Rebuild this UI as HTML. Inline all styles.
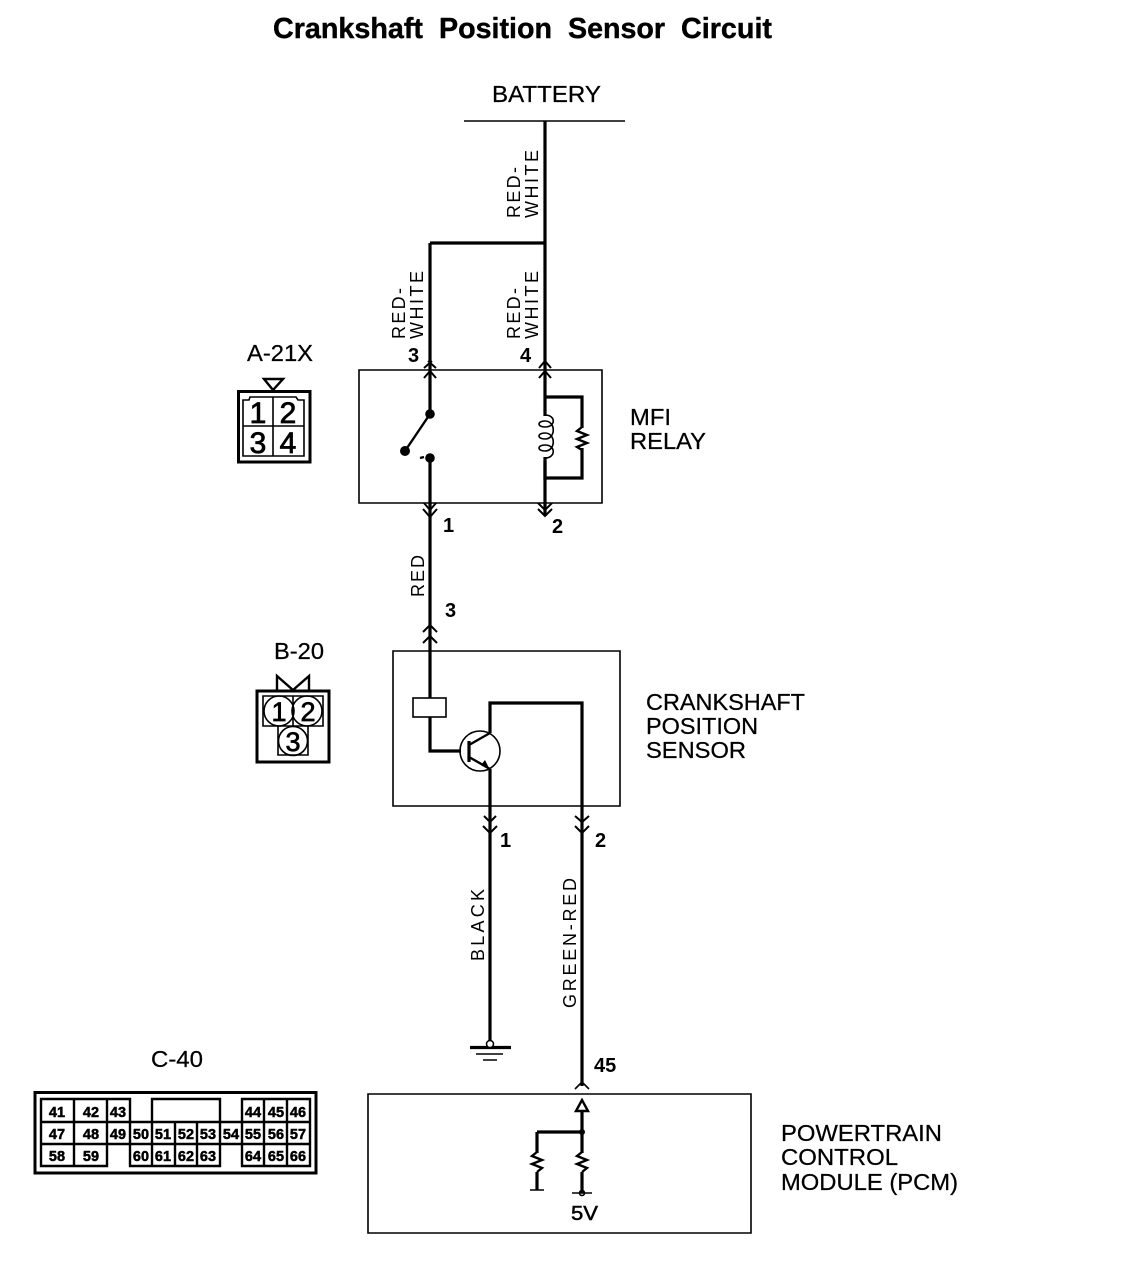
<!DOCTYPE html>
<html><head><meta charset="utf-8"><style>
html,body{margin:0;padding:0;background:#fff;width:1136px;height:1262px;overflow:hidden}
svg{display:block}
text{font-family:"Liberation Sans",Arial,sans-serif;fill:#000}
.w{stroke:#000;stroke-width:3.2;fill:none}
.t{stroke:#000;stroke-width:1.6;fill:none}
.a{stroke:#000;stroke-width:2;fill:none}
.m{stroke:#000;stroke-width:2.4;fill:none}
.l{font-size:23px;stroke:#000;stroke-width:.25}
.n{font-size:20px;font-weight:bold}
.v{font-size:18px}
.d{font-size:30px;text-anchor:middle;stroke:#000;stroke-width:.8}
.e{font-size:27px;text-anchor:middle;stroke:#000;stroke-width:.7}
.c{font-size:14.500px;font-weight:bold;text-anchor:middle;stroke:#000;stroke-width:.5}
.h{font-size:28.500px;font-weight:bold;stroke:#000;stroke-width:.4}
</style></head><body>
<svg width="1136" height="1262" viewBox="0 0 1136 1262" xmlns="http://www.w3.org/2000/svg">
<text x="273" y="38" class="h" textLength="150" lengthAdjust="spacingAndGlyphs">Crankshaft</text>
<text x="439" y="38" class="h" textLength="113" lengthAdjust="spacingAndGlyphs">Position</text>
<text x="568" y="38" class="h" textLength="97" lengthAdjust="spacingAndGlyphs">Sensor</text>
<text x="681" y="38" class="h" textLength="91" lengthAdjust="spacingAndGlyphs">Circuit</text>
<text x="492" y="102" class="l" textLength="109" lengthAdjust="spacingAndGlyphs">BATTERY</text>
<path class="t" d="M464 121H625"/>
<path class="w" d="M545 121V516M430 243H545M430 243V414M430 458V625"/>
<text class="v" transform="translate(520,218) rotate(-90)" textLength="51">RED-</text>
<text class="v" transform="translate(538,218) rotate(-90)" textLength="68">WHITE</text>
<text class="v" transform="translate(405,339) rotate(-90)" textLength="51">RED-</text>
<text class="v" transform="translate(423,339) rotate(-90)" textLength="68">WHITE</text>
<text class="v" transform="translate(520,339) rotate(-90)" textLength="51">RED-</text>
<text class="v" transform="translate(538,339) rotate(-90)" textLength="68">WHITE</text>
<text x="408" y="362" class="n">3</text>
<text x="520" y="362" class="n">4</text>
<path class="t" d="M359 370H602V503H359Z"/>
<path class="a" d="M424 368L432 361M436 368L428 361M424 378L430 371L436 378M539 368L545 361L551 368M539 378L545 371L551 378"/>
<circle cx="430" cy="414" r="4.800"/><circle cx="430" cy="458" r="4.800"/><circle cx="405" cy="451" r="5"/>
<path class="m" d="M430 414L405 451M420 458L424 457"/>
<path d="M545 397H582V478H545" class="w"/>
<path fill="#fff" stroke="none" d="M541 411h10v50h-10z"/>
<path class="t" d="M545 415C556 415 556 427 545 427C537 427 537 421 545 421C556 421 556 439 545 439C537 439 537 433 545 433C556 433 556 451 545 451C537 451 537 445 545 445C556 445 556 458 545 458"/>
<path class="w" d="M545 410V416M545 457V480"/>
<path fill="#fff" stroke="none" d="M578 428h8v20h-8z"/>
<path class="m" d="M582 427L577 431L587 435L577 439L587 443L577 447L582 450"/>
<path class="a" d="M424 503L430 510L436 503M423 509L430 517L437 509M538 503L545 510L552 503M538 509L545 516L552 509"/>
<text x="443" y="532" class="n">1</text>
<text x="552" y="533" class="n">2</text>
<text x="630" y="425" class="l" textLength="41" lengthAdjust="spacingAndGlyphs">MFI</text>
<text x="630" y="449" class="l" textLength="76" lengthAdjust="spacingAndGlyphs">RELAY</text>
<text x="247" y="361" class="l" textLength="66" lengthAdjust="spacingAndGlyphs">A-21X</text>
<path class="m" d="M264 379H283L273 390Z"/>
<path d="M238.500 391.500H310V462H238.500Z" stroke="#000" stroke-width="3" fill="none"/>
<path class="t" d="M243 400H249L250 397H296L298 400H304V456H243ZM273 397V456M243 426H304"/>
<text x="258" y="423" class="d">1</text>
<text x="288" y="423" class="d">2</text>
<text x="258" y="453" class="d">3</text>
<text x="288" y="453" class="d">4</text>
<text class="v" transform="translate(424,597) rotate(-90)" textLength="42">RED</text>
<text x="445" y="617" class="n">3</text>
<path class="a" d="M423 632L430 625L437 632M423 643L430 636L437 643"/>
<path class="w" d="M430 625V698M430 717V751H461"/>
<text x="274" y="659" class="l" textLength="50" lengthAdjust="spacingAndGlyphs">B-20</text>
<path class="t" d="M393 651H620V806H393Z" stroke-width="2"/>
<rect x="413" y="698" width="33" height="19" class="t" fill="#fff"/>
<circle cx="480" cy="751" r="20" class="t"/>
<path class="w" d="M469 741V762"/>
<path class="m" d="M469 745L490 733M469 757L490 769"/>
<path d="M490 770L481 765L485 760Z"/>
<path class="w" d="M490 733V703H582V1086M490 769V1047"/>
<path class="a" d="M484 816L490 822L496 816M483 826L490 833L497 826M575 816L582 822L589 816M575 826L582 833L589 826"/>
<text x="500" y="847" class="n">1</text>
<text x="595" y="847" class="n">2</text>
<text x="646" y="710" class="l" textLength="159" lengthAdjust="spacingAndGlyphs">CRANKSHAFT</text>
<text x="646" y="734" class="l" textLength="112" lengthAdjust="spacingAndGlyphs">POSITION</text>
<text x="646" y="758" class="l" textLength="100" lengthAdjust="spacingAndGlyphs">SENSOR</text>
<path d="M257 691H329V762H257Z" stroke="#000" stroke-width="3" fill="none"/>
<path class="m" d="M277 690V676L293 690L309 676V690"/>
<path class="t" d="M263 696H323V726H263ZM293 696V726M278 726V755H308V726"/>
<circle cx="279" cy="711" r="15" class="t"/><circle cx="307" cy="711" r="15" class="t"/><circle cx="293" cy="741" r="14.500" class="t"/>
<text x="279" y="721" class="e">1</text>
<text x="308" y="721" class="e">2</text>
<text x="293" y="751" class="e">3</text>
<text class="v" transform="translate(484,961) rotate(-90)" textLength="72">BLACK</text>
<text class="v" transform="translate(576,1008) rotate(-90)" textLength="130">GREEN-RED</text>
<path class="w" d="M470 1047.500H511"/>
<path class="t" d="M476 1054H503M483 1060H497"/>
<circle cx="490" cy="1044" r="3.500" fill="#fff" stroke="#000" stroke-width="1.500"/>
<text x="594" y="1072" class="n">45</text>
<path class="t" d="M575 1089L582 1082L589 1089"/>
<path class="t" d="M368 1094H751V1233H368Z"/>
<path class="m" d="M576 1111L582 1100L588 1111Z"/>
<path class="w" d="M582 1111V1153M537 1132H582M537 1132V1153M582 1172V1193M537 1172V1190"/>
<circle cx="582" cy="1132" r="3"/>
<path class="m" d="M537 1152L532 1156L542 1160L532 1164L542 1168L537 1172M582 1152L577 1156L587 1160L577 1164L587 1168L582 1172"/>
<path class="t" d="M530 1190H544M572 1193H592"/>
<circle cx="582" cy="1193" r="2.500" class="t"/>
<text x="571" y="1220" class="l" textLength="27" lengthAdjust="spacingAndGlyphs" font-size="20" style="font-size:20px;stroke-width:.5">5V</text>
<text x="781" y="1141" class="l" textLength="161" lengthAdjust="spacingAndGlyphs">POWERTRAIN</text>
<text x="781" y="1165" class="l" textLength="117" lengthAdjust="spacingAndGlyphs">CONTROL</text>
<text x="781" y="1190" class="l" textLength="177" lengthAdjust="spacingAndGlyphs">MODULE (PCM)</text>
<text x="151" y="1067" class="l" textLength="52" lengthAdjust="spacingAndGlyphs">C-40</text>
<path d="M35 1092.500H316V1173H35Z" stroke="#000" stroke-width="3" fill="none"/>
<path class="m" d="M41 1099H130V1122H41ZM41 1122H310V1144H41ZM41 1144H107V1166H41ZM130 1144H220V1166H130ZM242 1144H310V1166H242ZM152 1099H220V1122H152ZM242 1099H310V1122H242ZM74 1099V1166M107 1099V1144M130 1122V1166M152 1122V1166M175 1122V1166M197 1122V1166M220 1122V1166M242 1122V1166M264 1099V1166M287 1099V1166"/>
<g>
<text class="c" x="57" y="1117">41</text><text class="c" x="91" y="1117">42</text><text class="c" x="118" y="1117">43</text><text class="c" x="253" y="1117">44</text><text class="c" x="276" y="1117">45</text><text class="c" x="298" y="1117">46</text>
<text class="c" x="57" y="1139">47</text><text class="c" x="91" y="1139">48</text><text class="c" x="118" y="1139">49</text><text class="c" x="141" y="1139">50</text><text class="c" x="163" y="1139">51</text><text class="c" x="186" y="1139">52</text><text class="c" x="208" y="1139">53</text><text class="c" x="231" y="1139">54</text><text class="c" x="253" y="1139">55</text><text class="c" x="276" y="1139">56</text><text class="c" x="298" y="1139">57</text>
<text class="c" x="57" y="1161">58</text><text class="c" x="91" y="1161">59</text><text class="c" x="141" y="1161">60</text><text class="c" x="163" y="1161">61</text><text class="c" x="186" y="1161">62</text><text class="c" x="208" y="1161">63</text><text class="c" x="253" y="1161">64</text><text class="c" x="276" y="1161">65</text><text class="c" x="298" y="1161">66</text>
</g>
</svg>
</body></html>
